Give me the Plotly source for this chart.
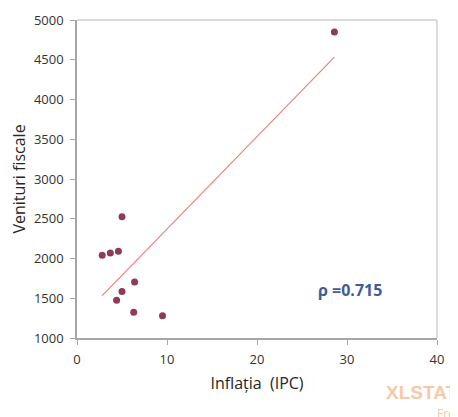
import numpy as np
import plotly.graph_objects as go

# date
inflatia = [2.8, 3.7, 4.6, 5.0, 6.4, 5.0, 4.4, 6.3, 9.5, 28.6]
venituri = [2040, 2070, 2090, 2525, 1705, 1585, 1475, 1325, 1280, 4850]
x_ticks = [0, 10, 20, 30, 40]
y_ticks = [1000, 1500, 2000, 2500, 3000, 3500, 4000, 4500, 5000]
rho_text = 'ρ =0.715'

FONT = 'Open Sans'
AXIS_GRAY = '#A6A6A6'
BOX_GRAY = '#CFCFCF'
WATERMARK = '#F7C9A6'

# dreapta de regresie din date
slope, intercept = np.polyfit(inflatia, venituri, 1)
fit_x = [min(inflatia), max(inflatia)]
fit_y = [intercept + slope * v for v in fit_x]

fig = go.Figure()

fig.add_trace(go.Scatter(
    x=fit_x,
    y=fit_y,
    mode='lines',
    line={'color': '#E8857C', 'width': 1.2},
    hoverinfo='skip'
))

fig.add_trace(go.Scatter(
    x=inflatia,
    y=venituri,
    mode='markers',
    marker={'color': '#8E3B55', 'size': 7, 'line': {'width': 0}},
    hovertemplate='%{x}, %{y}<extra></extra>'
))

axis_common = {
    'automargin': False,
    'showgrid': False,
    'zeroline': False,
    'showline': True,
    'linecolor': AXIS_GRAY,
    'linewidth': 1.5,
    'ticks': 'outside',
    'ticklen': 5,
    'tickcolor': AXIS_GRAY,
    'ticklabelstandoff': 4,
    'tickfont': {'family': FONT, 'size': 13, 'color': '#333333'},
}

# pagina are margine de 8px in browser
fig.update_layout(
    width=450,
    height=409,
    margin={'l': 69, 'r': 21, 't': 12, 'b': 79},
    plot_bgcolor='white',
    paper_bgcolor='white',
    showlegend=False,
    font={'family': FONT, 'color': '#333333'},
    xaxis={
        **axis_common,
        'range': [0, 40],
        'tickvals': x_ticks,
        'title': {'text': 'Inflația  (IPC)', 'font': {'family': FONT, 'size': 16, 'color': '#262626'},
                  'standoff': 10},
    },
    yaxis={
        **axis_common,
        'range': [1000, 5000],
        'tickvals': y_ticks,
        'title': {'text': 'Venituri fiscale', 'font': {'family': FONT, 'size': 16, 'color': '#262626'},
                  'standoff': 8},
    },
    # chenarul de sus si din dreapta, mai deschis
    shapes=[
        {'type': 'line', 'xref': 'paper', 'yref': 'paper', 'x0': 0, 'x1': 1, 'y0': 1, 'y1': 1,
         'line': {'color': BOX_GRAY, 'width': 1.5}},
        {'type': 'line', 'xref': 'paper', 'yref': 'paper', 'x0': 1, 'x1': 1, 'y0': 0, 'y1': 1,
         'line': {'color': BOX_GRAY, 'width': 1.5}},
    ],
)

fig.add_annotation(
    x=30.3, y=1605, xref='x', yref='y',
    text=f'<b>{rho_text}</b>',
    showarrow=False,
    font={'family': FONT, 'size': 16, 'color': '#3F5B98'},
)

# filigran XLSTAT (taiat de marginea dreapta, ca in original)
fig.add_annotation(
    x=0.853, y=-0.170, xref='paper', yref='paper',
    xanchor='left', yanchor='middle',
    text='<b>XLSTAT</b>',
    showarrow=False,
    font={'family': 'Liberation Sans', 'size': 19, 'color': WATERMARK},
)
fig.add_annotation(
    x=0.995, y=-0.236, xref='paper', yref='paper',
    xanchor='left', yanchor='middle',
    text='Free',
    showarrow=False,
    font={'family': FONT, 'size': 12, 'color': WATERMARK},
)

fig.write_html("out.html")
